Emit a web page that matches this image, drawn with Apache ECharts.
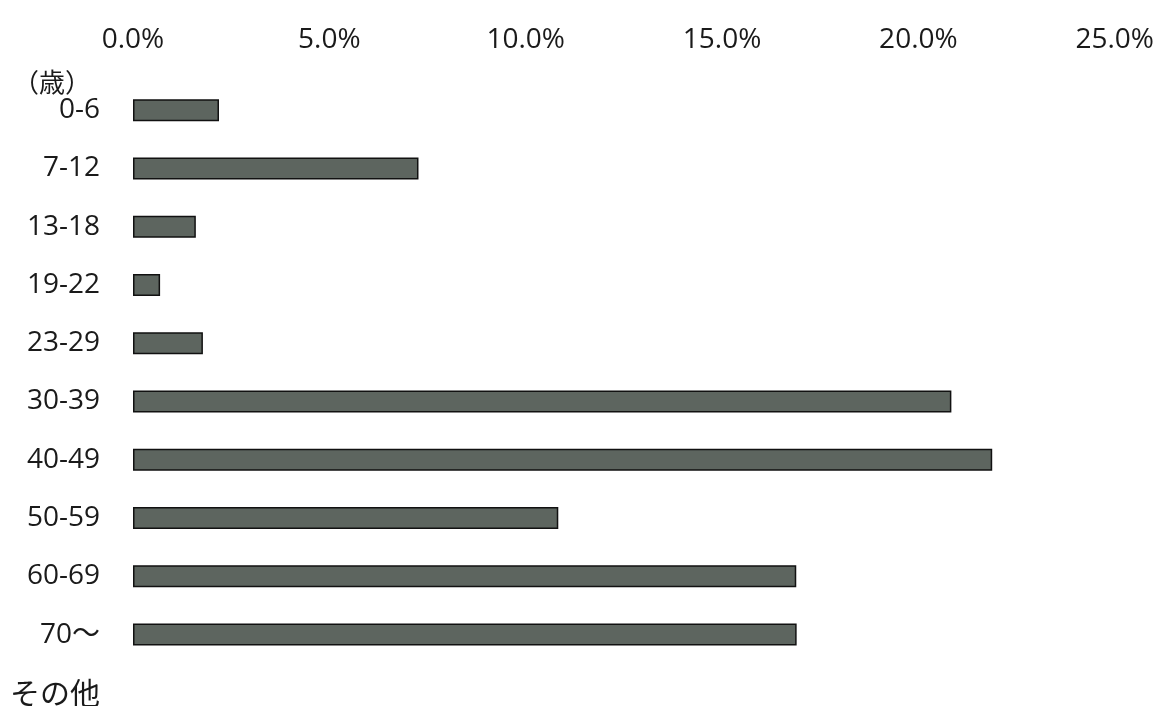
<!DOCTYPE html>
<html>
<head>
<meta charset="utf-8">
<script src="https://cdn.jsdelivr.net/npm/echarts@6/dist/echarts.min.js"></script>
<style>
html,body{margin:0;padding:0;background:#fff;overflow:hidden;width:1157px;height:706px;}
#chart{width:1157px;height:722px;}
</style>
</head>
<body>
<div id="chart"></div>
<script>
var categories = ['0-6', '7-12', '13-18', '19-22', '23-29', '30-39', '40-49', '50-59', '60-69', '70〜', 'その他'];
var shares = [2.19, 7.27, 1.60, 0.69, 1.78, 20.84, 21.88, 10.83, 16.89, 16.90, 0];
var xTicks = [0, 5, 10, 15, 20, 25];
var unitLabel = '（歳）';

var chart = echarts.init(document.getElementById('chart'), null, {renderer: 'canvas'});
var font = '"Open Sans", "Noto Sans CJK JP", sans-serif';
var barData = shares.map(function (v) {
  return v === 0 ? {value: v, itemStyle: {borderWidth: 0}} : v;
});
chart.setOption({
  backgroundColor: '#ffffff',
  animation: false,
  title: {
    text: unitLabel,
    left: 8,
    top: 64,
    textStyle: {fontFamily: '"Noto Sans CJK JP", sans-serif', fontSize: 26, fontWeight: 'normal', color: '#1a1a1a'}
  },
  grid: {left: 133, right: 42, top: 81, bottom: 0, containLabel: false},
  xAxis: {
    type: 'value',
    position: 'top',
    min: xTicks[0],
    max: xTicks[xTicks.length - 1],
    interval: 5,
    axisLine: {show: false},
    axisTick: {show: false},
    splitLine: {show: false},
    axisLabel: {
      margin: 27,
      fontFamily: font,
      fontSize: 28,
      color: '#1a1a1a',
      formatter: function (v) { return v.toFixed(1) + '%'; }
    }
  },
  yAxis: {
    type: 'category',
    inverse: true,
    data: categories,
    axisLine: {show: false},
    axisTick: {show: false},
    splitLine: {show: false},
    axisLabel: {
      margin: 33,
      fontFamily: font,
      fontSize: 28,
      color: '#1a1a1a',
      formatter: function (v) { return v === 'その他' ? '{b|' + v + '}' : v; },
      rich: {b: {fontFamily: '"Noto Sans CJK JP", sans-serif', fontSize: 30, color: '#1a1a1a'}}
    }
  },
  series: [{
    type: 'bar',
    data: barData,
    barWidth: 22,
    itemStyle: {color: '#5d655f', borderColor: '#111111', borderWidth: 1.5}
  }]
});
</script>
</body>
</html>
